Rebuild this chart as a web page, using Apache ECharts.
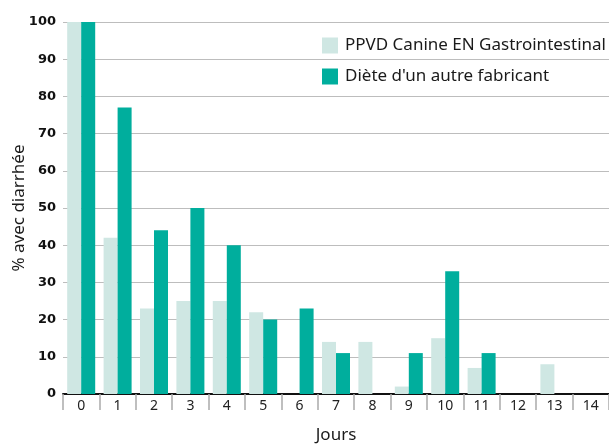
<!DOCTYPE html>
<html>
<head>
<meta charset="utf-8">
<script src="https://cdn.jsdelivr.net/npm/echarts@6/dist/echarts.min.js"></script>
<style>
  html, body { margin: 0; padding: 0; background: #fff; }
  #chart { width: 609px; height: 444px; }
</style>
</head>
<body>
<div id="chart"></div>
<script>
// jours
const days = ['0', '1', '2', '3', '4', '5', '6', '7', '8', '9', '10', '11', '12', '13', '14']
// % avec diarrhée
const ppvd = [100, 42, 23, 25, 25, 22, 0, 14, 14, 2, 15, 7, 0, 8, 0]
const autre = [100, 77, 44, 50, 40, 20, 23, 11, 0, 11, 33, 11, 0, 0, 0]
const yTicks = [0, 10, 20, 30, 40, 50, 60, 70, 80, 90, 100]

const chart = echarts.init(document.getElementById('chart'))
chart.setOption({
  animation: false,
  backgroundColor: '#fff',
  color: ['#cfe7e3', '#00ae9d'],
  grid: {
    top: 22,
    left: 63,
    right: 0,
    bottom: 50,
    outerBoundsMode: 'none'
  },
  legend: {
    orient: 'vertical',
    left: 322,
    top: 37,
    padding: 0,
    itemWidth: 16,
    itemHeight: 16,
    itemGap: 14,
    icon: 'rect',
    textStyle: {
      fontFamily: 'Noto Sans',
      fontSize: 17,
      color: '#1a1a1a',
      padding: [0, 0, 0, 2]
    },
    data: ['PPVD Canine EN Gastrointestinal', "Diète d'un autre fabricant"]
  },
  xAxis: {
    type: 'category',
    data: days,
    name: 'Jours',
    nameLocation: 'middle',
    nameGap: 33,
    nameTextStyle: { fontFamily: 'Noto Sans', fontSize: 17, color: '#1a1a1a' },
    axisLine: { lineStyle: { color: '#111', width: 2 } },
    axisTick: { show: true, length: 16, lineStyle: { color: '#aaa', width: 1.5 } },
    axisLabel: { fontFamily: 'Noto Sans', fontSize: 14, color: '#222', margin: 5 }
  },
  yAxis: {
    type: 'value',
    min: yTicks[0],
    max: yTicks[yTicks.length - 1],
    interval: 10,
    name: '% avec diarrhée',
    nameLocation: 'middle',
    nameMoveOverlap: false,
    nameGap: 35,
    nameTextStyle: { fontFamily: 'Noto Sans', fontSize: 17, color: '#1a1a1a' },
    axisLine: { show: false },
    axisTick: { show: false },
    axisLabel: { fontFamily: 'DejaVu Sans', fontWeight: 'bold', fontSize: 13, color: '#111', margin: 7 },
    splitLine: { lineStyle: { color: '#bdbdbd', width: 1 } }
  },
  series: [
    {
      name: 'PPVD Canine EN Gastrointestinal',
      type: 'bar',
      barWidth: 14,
      barGap: '0%',
      data: ppvd
    },
    {
      name: "Diète d'un autre fabricant",
      type: 'bar',
      barWidth: 14,
      barGap: '0%',
      data: autre
    }
  ]
})
</script>
</body>
</html>
